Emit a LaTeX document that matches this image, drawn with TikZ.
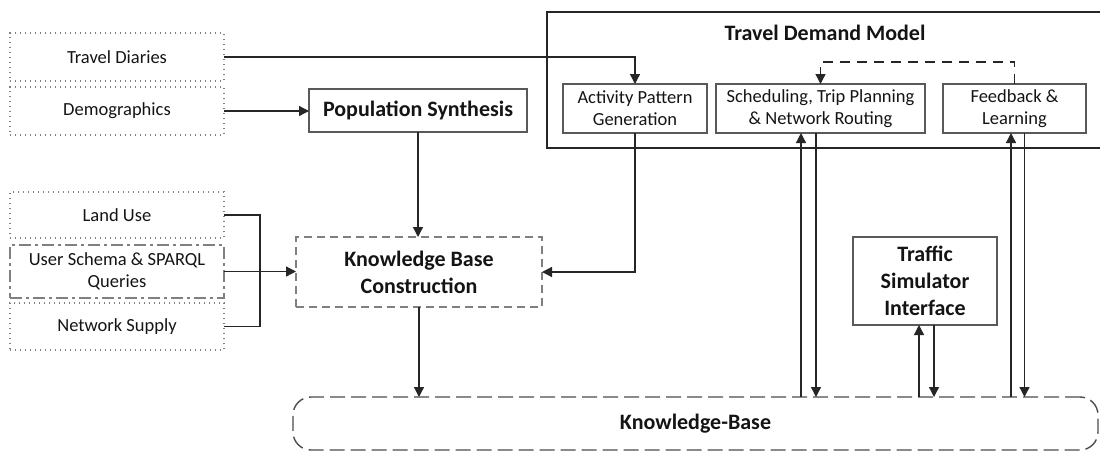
\documentclass[tikz,border=0pt]{standalone}
\usepackage{fontspec}
\setmainfont{Carlito}
\usetikzlibrary{arrows.meta}
\definecolor{boxgray}{HTML}{595959}
\definecolor{dotgray}{HTML}{808080}
\definecolor{txtcol}{HTML}{141414}
\tikzset{
  x=1pt, y=-1pt,
  every node/.style={inner sep=0pt, outer sep=0pt, text=txtcol},
  ntext/.style={font=\fontsize{18.5}{22}\selectfont, align=center},
  btext/.style={font=\fontsize{22}{27}\selectfont\bfseries, align=center},
  plainbox/.style={draw=boxgray, line width=1.4pt, rectangle, ntext},
  boldbox/.style={draw=boxgray, line width=1.4pt, rectangle, btext},
  dotbox/.style={draw=dotgray, line width=1.4pt, dash pattern=on 1.3pt off 3.7pt, rectangle, ntext},
  dashdotbox/.style={draw=dotgray, line width=2pt, dash pattern=on 12pt off 4pt on 3pt off 4pt, rectangle, ntext},
  dashbox/.style={draw=dotgray, line width=1.6pt, dash pattern=on 8pt off 5pt, rectangle, btext},
  kbbox/.style={draw=black!70, line width=1.4pt, dash pattern=on 15pt off 6pt, rectangle, rounded corners=18pt, btext},
  conn/.style={draw=black!85, line width=1.3pt},
  arr/.style={conn, -{Triangle[length=10pt,width=10pt]}},
}
\begin{document}
\begin{tikzpicture}
\useasboundingbox (0,0) rectangle (1100,451);
% Travel demand model container
\node[draw=black!85, line width=1.4pt, rectangle, minimum width=560, minimum height=136, anchor=north west] (tdmbox) at (547,12) {};
\node[btext] (tdm) at (825,33) {Travel Demand Model};
% left inputs
\node[dotbox, minimum width=214, minimum height=48] (td) at (117,57) {Travel Diaries};
\node[dotbox, minimum width=214, minimum height=48] (dm) at (117,111) {Demographics};
\node[dotbox, minimum width=214, minimum height=46] (lu) at (117,215) {Land Use};
\node[dashdotbox, minimum width=214, minimum height=53] (us) at (117,271.5) {User Schema \& SPARQL\\Queries};
\node[dotbox, minimum width=214, minimum height=47] (ns) at (117,326.5) {Network Supply};
% central
\node[boldbox, minimum width=218, minimum height=43] (ps) at (418,110.5) {Population Synthesis};
\node[dashbox, minimum width=246, minimum height=70] (kbc) at (419,272) {Knowledge Base\\Construction};
% TDM components
\node[plainbox, minimum width=144, minimum height=49] (apg) at (635,108.5) {Activity Pattern\\Generation};
\node[plainbox, minimum width=209, minimum height=49] (sch) at (820.5,108.5) {Scheduling, Trip Planning\\\& Network Routing};
\node[plainbox, minimum width=143, minimum height=49] (fb) at (1014.5,108.5) {Feedback \&\\Learning};
% traffic simulator
\node[boldbox, minimum width=144, minimum height=88] (tsi) at (925,281) {Traffic\\Simulator\\Interface};
% knowledge base
\node[kbbox, minimum width=805, minimum height=53] (kb) at (695.5,423.5) {Knowledge-Base};
% helper coordinates
\coordinate (j) at (260,271.5);
\coordinate (s1) at (801,0);
\coordinate (s2) at (816,0);
\coordinate (f1) at (1011,0);
\coordinate (f2) at (1024.5,0);
\coordinate (t1) at (919,0);
\coordinate (t2) at (934,0);
\coordinate (fbtop) at (1014.5,62);
% connectors
\draw[arr] (td.east) -| (apg.north);
\draw[arr] (dm.east) -- (ps.west |- dm.east);
\draw[conn] (lu.east) -| (j);
\draw[conn] (ns.east) -| (j);
\draw[arr] (us.east) -- (kbc.west |- us.east);
\draw[arr] (ps.south) -- (ps.south |- kbc.north);
\draw[arr] (kbc.south) -- (kbc.south |- kb.north);
\draw[arr] (apg.south) |- (kbc.east);
\draw[arr, dash pattern=on 10pt off 7pt] (fb.north) -- (fbtop) -| (sch.north);
\draw[arr] (s1 |- kb.north) -- (s1 |- sch.south);
\draw[arr] (s2 |- sch.south) -- (s2 |- kb.north);
\draw[arr] (f1 |- kb.north) -- (f1 |- fb.south);
\draw[arr] (f2 |- fb.south) -- (f2 |- kb.north);
\draw[arr] (t1 |- kb.north) -- (t1 |- tsi.south);
\draw[arr] (t2 |- tsi.south) -- (t2 |- kb.north);
\end{tikzpicture}
\end{document}
